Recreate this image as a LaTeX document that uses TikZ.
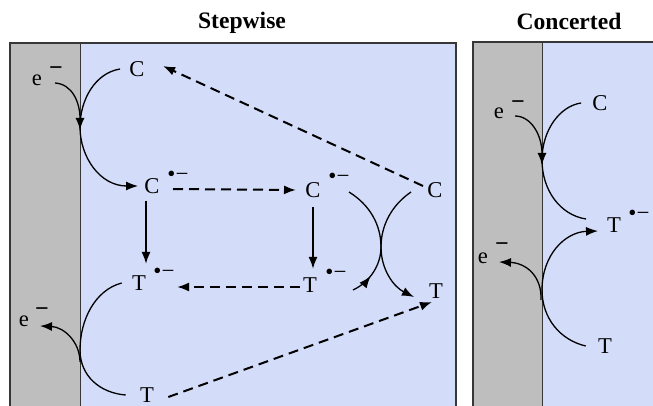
\documentclass[tikz,border=0pt]{standalone}
\usepackage{fontspec}
\setmainfont{Liberation Serif}
\usetikzlibrary{arrows.meta,decorations.markings}
\definecolor{bluefill}{RGB}{211,220,248}
\definecolor{wallgray}{RGB}{190,190,190}
\definecolor{edgecol}{RGB}{55,55,55}
\begin{document}
\begin{tikzpicture}[x=0.5pt,y=-0.5pt,
  lab/.style={inner sep=0pt, font=\fontsize{11.3}{13}\selectfont},
  rad/.style={inner sep=0pt, font=\fontsize{11.5}{13}\selectfont},
  mns/.style={inner sep=0pt, font=\fontsize{12}{14}\selectfont\bfseries},
  ttl/.style={inner sep=0pt, font=\fontsize{11.8}{14}\selectfont\bfseries},
  arcline/.style={line width=0.65pt},
  tipped/.style={-{Latex[length=6pt,width=4.5pt]}},
  dsh/.style={line width=1pt, dash pattern=on 5pt off 3pt},
  sol/.style={line width=1pt},
  midtip/.style={postaction={decorate},decoration={markings,
     mark=at position 0.19 with {\arrow{Latex[length=6pt,width=4.5pt]}}}}]

\useasboundingbox (0,0) rectangle (653,406);

% panels
\fill[bluefill] (10,43) rectangle (456,406);
\fill[wallgray] (10,43) rectangle (80,406);
\draw[edgecol, line width=0.9pt] (10,406) -- (10,43) -- (456,43) -- (456,406);
\draw[edgecol, line width=0.5pt] (80,43) -- (80,406);

\fill[bluefill] (473,42) rectangle (653,406);
\fill[wallgray] (473,42) rectangle (542,406);
\draw[edgecol, line width=0.9pt] (473,406) -- (473,42) -- (653,42);
\draw[edgecol, line width=0.5pt] (542,42) -- (542,406);

% titles
\node[ttl] (t1) at (242,23) {Stepwise};
\node[ttl] (t2) at (569,21) {Concerted};

% stepwise labels
\node[lab] (e1) at (37,80) {e};
\node[mns] (m1) at (56,71) {−};
\node[lab] (Ct) at (137,69) {C};
\node[lab] (Cm1) at (152,186) {C};
\node[rad] (r1) at (178,176) {•−};
\node[lab] (Cm2) at (313,190) {C};
\node[rad] (r2) at (339,178) {•−};
\node[lab] (Cr) at (435,190) {C};
\node[lab] (Tm1) at (139,283) {T};
\node[rad] (r3) at (164,273) {•−};
\node[lab] (Tm2) at (310,285) {T};
\node[rad] (r4) at (336,274) {•−};
\node[lab] (Tr) at (436,291) {T};
\node[lab] (Tb) at (147,395) {T};
\node[lab] (e2) at (24,321) {e};
\node[mns] (m2) at (42,312) {−};

% concerted labels
\node[lab] (e3) at (499,113) {e};
\node[mns] (m3) at (518,105) {−};
\node[lab] (Cc) at (600,103) {C};
\node[lab] (Tc) at (614,225) {T};
\node[rad] (r5) at (639,215) {•−};
\node[lab] (e4) at (483,258) {e};
\node[mns] (m4) at (502,247) {−};
\node[lab] (Tcb) at (605,346) {T};

% stepwise: electrode curves
\draw[arcline, tipped] (55,83) .. controls (72,84) and (80,102) .. (80,130);
\draw[arcline, tipped] (Ct.west) ++(-9,0) .. controls (95,73) and (80,100) .. (80,127)
   .. controls (80,157) and (100,186) .. ([xshift=-3pt]Cm1.west);
\draw[arcline] (Tm1.west) ++(-10,0) .. controls (95,290) and (80,320) .. (80,350)
   .. controls (80,376) and (100,393) .. ([xshift=-7pt]Tb.west);
\draw[arcline, tipped] (80,362) .. controls (80,342) and (64,327) .. (40,326);

% vertical solid arrows
\draw[sol, tipped] (146,201) -- (146,264);
\draw[sol, tipped] (313,207) -- (313,269);

% dashed arrows
\draw[dsh, tipped] (173,189) -- (296,190);
\draw[dsh, tipped] (300,287) -- (177,287);
\draw[dsh, tipped] ([xshift=-2pt,yshift=2pt]Cr.west) -- (163,66);
\draw[dsh, tipped] ([xshift=7pt,yshift=-1pt]Tb.east) -- (432,302);

% crossing curves
\draw[arcline, tipped] (349,192) .. controls (370,205) and (381,225) .. (381,247)
   .. controls (381,270) and (394,287) .. (414,297);
\draw[arcline, midtip] (353,290) .. controls (370,282) and (381,265) .. (381,247)
   .. controls (381,225) and (392,205) .. (411,192);

% concerted curves
\draw[arcline, tipped] (515,116) .. controls (531,116) and (542,135) .. (542,165);
\draw[arcline] ([xshift=-5.5pt]Cc.west) .. controls (560,106) and (542,130) .. (542,160)
   .. controls (542,190) and (560,215) .. (586,219);
\draw[arcline, tipped] ([xshift=-6pt]Tcb.west) .. controls (560,340) and (542,318) .. (542,290)
   .. controls (542,255) and (565,232) .. (598,231);
\draw[arcline, tipped] (541,300) .. controls (542,276) and (526,263) .. (499,262);
\end{tikzpicture}
\end{document}
